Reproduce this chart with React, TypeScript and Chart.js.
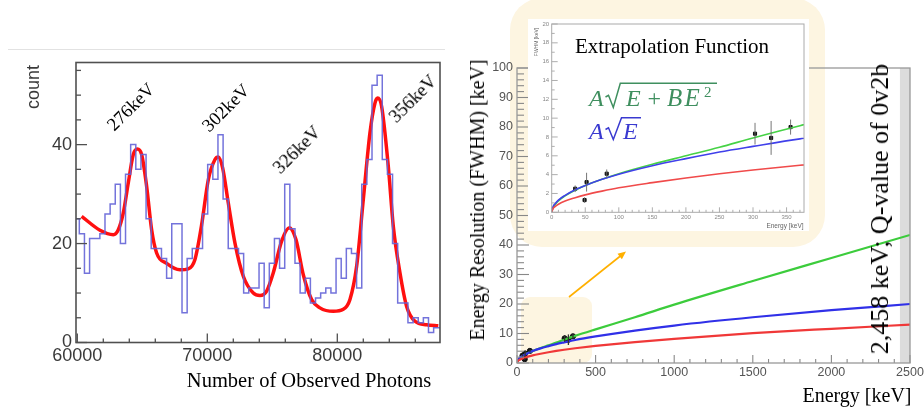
import React, { useEffect, useRef } from "react";
import { Chart, registerables } from "chart.js";

Chart.register(...registerables);

// ---------------- Left panel: photon-count spectrum ----------------
const HIST_X_START = 59760; // left edge of first bin
const HIST_BIN_WIDTH = 395;
const HIST_COUNTS = [
  25, 22, 14, 21, 21, 22, 26, 28, 32, 20, 34, 40, 35, 38, 25, 19, 19, 17, 13, 24,
  24, 6, 17, 19, 19, 26, 36, 33, 42, 29, 19, 19, 18, 10, 11, 11, 16, 7, 16, 21,
  15, 32, 23, 16, 10, 13, 8, 9, 10, 11, 10, 17, 13, 19, 18, 11, 32, 37, 52, 54,
  37, 34, 20, 8, 8, 4, 5, 4, 5, 2, 3, 3,
];
const FIT_X = [
  60333, 61743, 62769, 63154, 63538, 63923, 64307, 64615, 64948, 65333, 65718, 66102,
  66872, 67897, 68538, 69051, 69564, 70077, 70590, 70846, 71179, 71615, 72128, 72769,
  73538, 74051, 74564, 75077, 75718, 76307, 76820, 77384, 78025, 78666, 79692, 80461,
  80974, 81487, 82000, 82513, 82897, 83102, 83410, 83923, 84307, 84820, 85333, 85974,
  86872, 87769,
];
const FIT_Y = [
  25.5, 22.7, 21.8, 22.8, 26.2, 32.3, 38, 39.1, 38, 31.6, 22.8, 18.1,
  16, 14.7, 14.9, 16.8, 23.8, 32.9, 37, 37.5, 35.3, 28.2, 20.1, 13.4,
  10, 9.5, 10.4, 14.1, 20.5, 23.2, 20.8, 13.7, 8.7, 7, 6.3, 6.7,
  8.7, 15.4, 28.9, 42.4, 48.4, 49.4, 47.7, 35.6, 23.5, 14.1, 7.3, 4.3,
  3.6, 3.4,
];
const LEFT_X_TICKS = [60000, 70000, 80000];
const LEFT_X_MINOR = [62000, 64000, 66000, 68000, 72000, 74000, 76000, 78000, 82000, 84000, 86000];
const LEFT_Y_TICKS = [0, 20, 40];
const LEFT_Y_MINOR = [5, 10, 15, 25, 30, 35, 45, 50, 55];
const PEAK_LABELS = ["276keV", "302keV", "326keV", "356keV"];

// ---------------- Right panel: energy resolution ----------------
const ENERGY = [0, 2, 5, 10, 20, 35, 50, 75, 100, 150, 200, 250, 300, 370, 500, 750, 1000, 1500, 2000, 2500];
const FWHM_QUAD = [0, 0.5, 0.8, 1.2, 1.75, 2.35, 2.85, 3.5, 4.1, 5.1, 6.0, 6.9, 7.9, 9.2, 11.4, 15.5, 19.8, 27.8, 35.6, 43.4];
const FWHM_SQRT = [0, 0.6, 0.9, 1.3, 1.8, 2.4, 2.85, 3.5, 4.05, 4.95, 5.7, 6.4, 7.0, 7.8, 9.0, 11.0, 12.7, 15.5, 17.9, 20.0];
const FWHM_LOW = [0, 0.4, 0.6, 0.85, 1.2, 1.55, 1.85, 2.25, 2.6, 3.15, 3.65, 4.1, 4.5, 5.0, 5.8, 7.1, 8.2, 10.1, 11.6, 13.0];
const MEAS_E = [35, 49, 52, 82, 303, 327, 356];
const MEAS_FWHM = [2.5, 1.3, 3.2, 4.1, 8.35, 7.9, 9.05];
const MEAS_ERR = [0.35, 0.3, 1.0, 0.45, 1.15, 1.8, 0.8];
const MAIN_X_TICKS = [0, 500, 1000, 1500, 2000, 2500];
const MAIN_Y_TICKS = [0, 10, 20, 30, 40, 50, 60, 70, 80, 90, 100];
const INSET_X_TICKS = [0, 50, 100, 150, 200, 250, 300, 350];
const INSET_Y_TICKS = [0, 2, 4, 6, 8, 10, 12, 14, 16, 18, 20];
const Q_BAND = [2436, 2500];

const SERIF = '"Liberation Serif", "Times New Roman", serif';
const SANS = '"Liberation Sans", Arial, Helvetica, sans-serif';
const GREEN_TXT = "#3f8f5f";
const BLUE_TXT = "#3a3ad0";

function range(a: number, b: number, step: number, skip: number[]) {
  const out: number[] = [];
  for (let v = a; v <= b + 1e-9; v += step) {
    const r = Math.round(v * 1000) / 1000;
    if (!skip.some((s) => Math.abs(s - r) < 1e-6)) out.push(r);
  }
  return out;
}

type FrameCfg = {
  xMajor: number[]; xMinor: number[]; yMajor: number[]; yMinor: number[];
  xMajorLen: number; xMinorLen: number; yMajorLen: number; yMinorLen: number;
  frameColor: string; frameWidth: number; tickColor: string; tickWidth: number;
  band?: number[]; bandColor?: string;
  errors?: { dataset: number; values: number[]; color: string; width: number };
};

function makeFramePlugin(cfg: FrameCfg) {
  return {
    id: "rootFrame",
    beforeDatasetsDraw(chart: any) {
      if (!cfg.band) return;
      const { ctx, chartArea: a, scales } = chart;
      const x0 = scales.x.getPixelForValue(cfg.band[0]);
      const x1 = scales.x.getPixelForValue(cfg.band[1]);
      ctx.save();
      ctx.fillStyle = cfg.bandColor || "#ddd";
      ctx.fillRect(x0, a.top, x1 - x0, a.bottom - a.top);
      ctx.restore();
    },
    afterDatasetsDraw(chart: any) {
      if (!cfg.errors) return;
      const { ctx, scales } = chart;
      const ds = chart.data.datasets[cfg.errors.dataset];
      ctx.save();
      ctx.strokeStyle = cfg.errors.color;
      ctx.lineWidth = cfg.errors.width;
      ds.data.forEach((p: any, i: number) => {
        const e = cfg.errors!.values[i];
        const px = scales.x.getPixelForValue(p.x);
        const y0 = scales.y.getPixelForValue(p.y - e);
        const y1 = scales.y.getPixelForValue(p.y + e);
        ctx.beginPath();
        ctx.moveTo(px, y0);
        ctx.lineTo(px, y1);
        ctx.stroke();
      });
      ctx.restore();
    },
    afterDraw(chart: any) {
      const { ctx, chartArea: a, scales } = chart;
      ctx.save();
      ctx.strokeStyle = cfg.tickColor;
      ctx.lineWidth = cfg.tickWidth;
      const vTick = (v: number, len: number) => {
        const px = scales.x.getPixelForValue(v);
        ctx.beginPath();
        ctx.moveTo(px, a.bottom);
        ctx.lineTo(px, a.bottom - len);
        ctx.stroke();
      };
      const hTick = (v: number, len: number) => {
        const py = scales.y.getPixelForValue(v);
        ctx.beginPath();
        ctx.moveTo(a.left, py);
        ctx.lineTo(a.left + len, py);
        ctx.stroke();
      };
      cfg.xMajor.forEach((v) => vTick(v, cfg.xMajorLen));
      cfg.xMinor.forEach((v) => vTick(v, cfg.xMinorLen));
      cfg.yMajor.forEach((v) => hTick(v, cfg.yMajorLen));
      cfg.yMinor.forEach((v) => hTick(v, cfg.yMinorLen));
      ctx.strokeStyle = cfg.frameColor;
      ctx.lineWidth = cfg.frameWidth;
      ctx.strokeRect(a.left, a.top, a.right - a.left, a.bottom - a.top);
      ctx.restore();
    },
  };
}

function axis(
  horizontal: boolean, min: number, max: number, ticks: number[], size: number,
  pad: number, font: number, color: string
) {
  return {
    type: "linear",
    min,
    max,
    grid: { display: false, drawTicks: false },
    border: { display: false },
    afterBuildTicks: (s: any) => {
      s.ticks = ticks.map((v) => ({ value: v }));
    },
    afterFit: (s: any) => {
      if (horizontal) s.height = size;
      else s.width = size;
      s.paddingLeft = 0;
      s.paddingRight = 0;
      s.paddingTop = 0;
      s.paddingBottom = 0;
    },
    ticks: {
      autoSkip: false,
      maxRotation: 0,
      minRotation: 0,
      padding: pad,
      color,
      font: { family: SANS, size: font },
      callback: (v: any) => String(v),
    },
  };
}

const pts = (xs: number[], ys: number[]) => xs.map((x, i) => ({ x, y: ys[i] }));

function leftConfig(): any {
  const hist = HIST_COUNTS.map((c, i) => ({ x: HIST_X_START + i * HIST_BIN_WIDTH, y: c }));
  hist.push({ x: HIST_X_START + HIST_COUNTS.length * HIST_BIN_WIDTH, y: HIST_COUNTS[HIST_COUNTS.length - 1] });
  return {
    type: "line",
    data: {
      datasets: [
        { data: hist, stepped: "before", borderColor: "rgba(100,100,215,0.9)", borderWidth: 1.5, pointRadius: 0, fill: false },
        { data: pts(FIT_X, FIT_Y), borderColor: "#ff1010", borderWidth: 3.5, pointRadius: 0, cubicInterpolationMode: "monotone", fill: false },
      ],
    },
    options: {
      responsive: false,
      animation: false,
      layout: { padding: { left: 0, top: 62.5, right: 20, bottom: 0 } },
      plugins: { legend: { display: false }, tooltip: { enabled: false }, title: { display: false } },
      scales: {
        x: axis(true, 59900, 87900, LEFT_X_TICKS, 67.5, 3, 18, "#3a3a3a"),
        y: axis(false, 0, 56.6, LEFT_Y_TICKS, 76, 4, 18, "#3a3a3a"),
      },
    },
    plugins: [
      makeFramePlugin({
        xMajor: LEFT_X_TICKS, xMinor: LEFT_X_MINOR, yMajor: LEFT_Y_TICKS, yMinor: LEFT_Y_MINOR,
        xMajorLen: 9, xMinorLen: 4, yMajorLen: 11, yMinorLen: 5,
        frameColor: "#505050", frameWidth: 1.6, tickColor: "#505050", tickWidth: 1.3,
      }),
    ],
  };
}

function curveSets(width: number, green: string, blue: string, red: string) {
  return [
    { data: pts(ENERGY, FWHM_LOW), borderColor: red, borderWidth: width, pointRadius: 0, cubicInterpolationMode: "monotone", fill: false },
    { data: pts(ENERGY, FWHM_SQRT), borderColor: blue, borderWidth: width, pointRadius: 0, cubicInterpolationMode: "monotone", fill: false },
    { data: pts(ENERGY, FWHM_QUAD), borderColor: green, borderWidth: width, pointRadius: 0, cubicInterpolationMode: "monotone", fill: false },
  ];
}

function mainConfig(): any {
  return {
    type: "line",
    data: {
      datasets: [
        ...curveSets(2.2, "#3ccc3c", "#3030e8", "#f03838"),
        { type: "scatter", data: pts(MEAS_E, MEAS_FWHM), pointRadius: 2.6, pointBackgroundColor: "#111", pointBorderColor: "#111", showLine: false },
      ],
    },
    options: {
      responsive: false,
      animation: false,
      layout: { padding: { left: 0, top: 68, right: 14, bottom: 0 } },
      plugins: { legend: { display: false }, tooltip: { enabled: false } },
      scales: {
        x: axis(true, 0, 2500, MAIN_X_TICKS, 47, 2, 12.5, "#555"),
        y: axis(false, 0, 100, MAIN_Y_TICKS, 57, 4, 12.5, "#555"),
      },
    },
    plugins: [
      makeFramePlugin({
        xMajor: MAIN_X_TICKS, xMinor: range(0, 2500, 100, MAIN_X_TICKS),
        yMajor: MAIN_Y_TICKS, yMinor: range(0, 100, 2, MAIN_Y_TICKS),
        xMajorLen: 8, xMinorLen: 4, yMajorLen: 12, yMinorLen: 7,
        frameColor: "#999", frameWidth: 1.3, tickColor: "#888", tickWidth: 1.1,
        band: Q_BAND, bandColor: "#dcdcdc",
        errors: { dataset: 3, values: MEAS_ERR, color: "#333", width: 1.3 },
      }),
    ],
  };
}

function insetConfig(): any {
  return {
    type: "line",
    data: {
      datasets: [
        ...curveSets(1.6, "#46d246", "#4040ea", "#f04a4a"),
        { type: "scatter", data: pts(MEAS_E, MEAS_FWHM), pointRadius: 2.2, pointStyle: "rect", pointBackgroundColor: "#111", pointBorderColor: "#111", showLine: false },
      ],
    },
    options: {
      responsive: false,
      animation: false,
      layout: { padding: { left: 0, top: 2.7, right: 2.3, bottom: 0 } },
      plugins: { legend: { display: false }, tooltip: { enabled: false } },
      scales: {
        x: axis(true, 0, 376, INSET_X_TICKS, 18.7, 1, 6, "#888"),
        y: axis(false, 0, 20, INSET_Y_TICKS, 23.7, 2.5, 6, "#888"),
      },
    },
    plugins: [
      makeFramePlugin({
        xMajor: INSET_X_TICKS, xMinor: range(0, 370, 10, INSET_X_TICKS),
        yMajor: INSET_Y_TICKS, yMinor: range(0, 20, 1, INSET_Y_TICKS),
        xMajorLen: 5, xMinorLen: 2.5, yMajorLen: 6, yMinorLen: 3,
        frameColor: "#aaa", frameWidth: 1, tickColor: "#999", tickWidth: 0.8,
        errors: { dataset: 3, values: MEAS_ERR, color: "#666", width: 0.9 },
      }),
    ],
  };
}

function Txt(props: {
  x: number; y: number; rot?: number; size: number; color?: string; family?: string;
  children: React.ReactNode; style?: React.CSSProperties;
}) {
  const { x, y, rot = 0, size, color = "#000", family = SERIF, children, style } = props;
  return (
    <div
      style={{
        position: "absolute", left: x, top: y,
        transform: `translate(-50%, -50%) rotate(${rot}deg)`,
        fontSize: size, fontFamily: family, color, whiteSpace: "nowrap", lineHeight: 1,
        ...style,
      }}
    >
      {children}
    </div>
  );
}

export default function App() {
  const leftRef = useRef<HTMLCanvasElement>(null);
  const mainRef = useRef<HTMLCanvasElement>(null);
  const insetRef = useRef<HTMLCanvasElement>(null);

  useEffect(() => {
    const charts = [
      new Chart(leftRef.current!, leftConfig()),
      new Chart(mainRef.current!, mainConfig()),
      new Chart(insetRef.current!, insetConfig()),
    ];
    return () => charts.forEach((c) => c.destroy());
  }, []);

  const peakPos = [
    [131, 107],
    [226, 108],
    [297, 150],
    [413, 99],
  ];

  return (
    <div style={{ position: "absolute", left: 0, top: 0, width: 924, height: 410, overflow: "hidden", background: "#fff" }}>
      <div style={{ position: "absolute", left: 8, top: 49, width: 437, height: 1, background: "#e2e2e2" }} />
      <canvas ref={leftRef} width={460} height={410} style={{ position: "absolute", left: 0, top: 0, width: 460, height: 410 }} />

      <div style={{ position: "absolute", left: 510, top: -2, width: 315, height: 249, borderRadius: 32, background: "#fdf5e1" }} />
      <div style={{ position: "absolute", left: 521, top: 297, width: 71, height: 66, borderRadius: 9, background: "#fdf5e1" }} />
      <canvas ref={mainRef} width={464} height={410} style={{ position: "absolute", left: 460, top: 0, width: 464, height: 410 }} />
      <canvas ref={insetRef} width={281} height={212} style={{ position: "absolute", left: 528, top: 19, width: 281, height: 212, background: "#fff" }} />

      {PEAK_LABELS.map((t, i) => (
        <Txt key={t} x={peakPos[i][0]} y={peakPos[i][1]} rot={-45} size={18.5}>{t}</Txt>
      ))}
      <Txt x={33} y={87} rot={-90} size={18} family={SANS} color="#3a3a3a">count</Txt>
      <Txt x={309} y={380} size={20.5}>Number of Observed Photons</Txt>

      <Txt x={477} y={200} rot={-90} size={20}>Energy Resolution (FWHM) [keV]</Txt>
      <Txt x={857} y={395} size={20}>Energy [keV]</Txt>
      <Txt x={880} y={209} rot={-90} size={26}>2,458 keV; Q-value of 0v2b</Txt>

      <Txt x={536} y={42} rot={-90} size={5} family={SANS} color="#666">FWHM [keV]</Txt>
      <Txt x={785} y={226} size={6.5} family={SANS} color="#666">Energy [keV]</Txt>
      <Txt x={672} y={46} size={21}>Extrapolation Function</Txt>

      <svg width={924} height={410} style={{ position: "absolute", left: 0, top: 0, pointerEvents: "none" }}>
        <g fontFamily={SERIF} fill={GREEN_TXT}>
          <text x={589} y={106} fontSize={24} fontStyle="italic">A</text>
          <path d="M605.5,97 L608.5,95.3 L613.3,107.5 L620.3,83.3 L717,83.3" stroke={GREEN_TXT} strokeWidth={1.5} fill="none" />
          <text x={626} y={106} fontSize={24} fontStyle="italic">E</text>
          <text x={647.5} y={106} fontSize={24}>+</text>
          <text x={667} y={106} fontSize={25} fontStyle="italic">B</text>
          <text x={684.5} y={106} fontSize={25} fontStyle="italic">E</text>
          <text x={704} y={97} fontSize={15}>2</text>
        </g>
        <g fontFamily={SERIF} fill={BLUE_TXT}>
          <text x={589} y={138.5} fontSize={24} fontStyle="italic">A</text>
          <path d="M605.5,129.5 L608.5,127.8 L613.3,139.5 L621.5,117.7 L641,117.7" stroke={BLUE_TXT} strokeWidth={1.5} fill="none" />
          <text x={623} y={138.5} fontSize={24} fontStyle="italic">E</text>
        </g>
        <line x1={569} y1={297} x2={621} y2={255.5} stroke="#ffb000" strokeWidth={1.6} />
        <polygon points="626,251.5 621.9,259.2 617.5,253.8" fill="#ffb000" />
      </svg>
    </div>
  );
}
